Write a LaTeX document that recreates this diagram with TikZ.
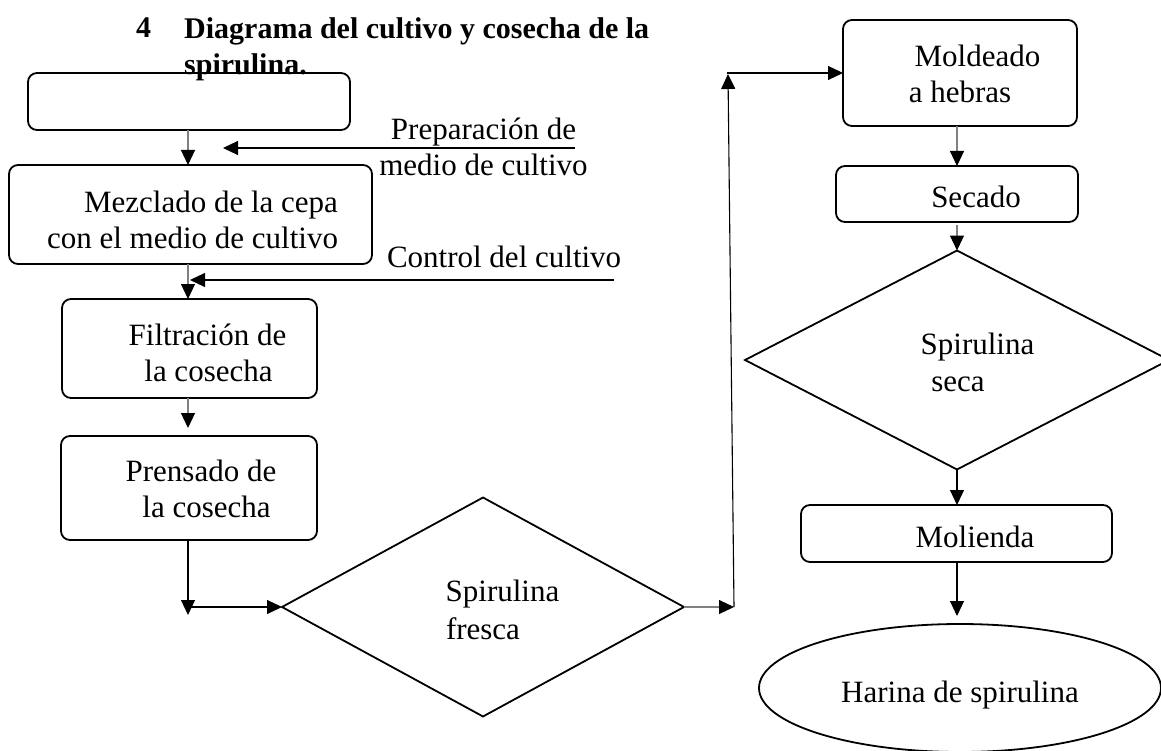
\documentclass[tikz,border=0pt]{standalone}
\usepackage{fontspec}
\setmainfont{Liberation Serif}
\usetikzlibrary{shapes.geometric,arrows.meta,calc}
\newcommand\bodyfont{\fontsize{31}{36}\selectfont}
\newcommand\titlefont{\fontsize{30}{36}\selectfont\bfseries}
\newcommand\tstrut[1]{\rule{0pt}{#1pt}}
\newcommand\ind[1]{\hspace*{#1pt}}
\begin{document}
\begin{tikzpicture}[x=1pt,y=-1pt,
  box/.style={draw, line width=1.8pt, rounded corners=9pt, inner sep=0pt, outer sep=0pt, align=center, font=\bodyfont},
  dia/.style={draw, diamond, line width=1.8pt, inner sep=0pt, outer sep=0pt, align=center, font=\bodyfont},
  oval/.style={draw, ellipse, line width=1.8pt, inner sep=0pt, outer sep=0pt, align=center, font=\bodyfont},
  lbl/.style={inner sep=0pt, outer sep=0pt, font=\bodyfont, align=center},
  arr/.style={line width=1.1pt, -{Triangle[width=14pt,length=15pt,color=black]}},
  garr/.style={arr, draw=black!50},
]
\useasboundingbox (0,0) rectangle (1161,751);
\clip (0,0) rectangle (1161,751);

% process boxes
\node[box, minimum width=322, minimum height=57] (inicio) at (189,101.5) {};
\node[box, minimum width=363, minimum height=99, align=right] (mezcla) at (190.5,214.5)
  {\tstrut{33}\ind{4}Mezclado de la cepa\\\ind{4}con el medio de cultivo};
\node[box, minimum width=255, minimum height=99] (filt) at (189.5,348.5)
  {\tstrut{31}\ind{36}Filtración de\\\ind{38}la cosecha};
\node[box, minimum width=256, minimum height=104] (prens) at (189,488)
  {\tstrut{24}\ind{24}Prensado de\\\ind{35}la cosecha};
\node[dia, minimum width=402, minimum height=184] (fresca) at (483,607)
  {\tstrut{28}\ind{39}Spirulina\\[2pt]fresca};
\node[box, minimum width=234, minimum height=106] (molde) at (960,73)
  {\tstrut{24}\ind{35}Moldeado\\a hebras};
\node[box, minimum width=242, minimum height=56, text height=28pt, text depth=0pt] (secado) at (957,194)
  {\ind{38}Secado};
\node[dia, minimum width=424, minimum height=184] (seca) at (957,360)
  {\tstrut{27}\ind{41}Spirulina\\[1pt]\ind{2}seca};
\node[box, minimum width=311, minimum height=57, text height=28pt, text depth=0pt] (molienda) at (956.5,533.5)
  {\ind{37}Molienda};
\node[oval, minimum width=402, minimum height=128, text height=28pt, text depth=0pt] (harina) at (960,688)
  {Harina de spirulina};

% title
\node[anchor=base west, inner sep=0pt, font=\titlefont] (num) at (136,38) {4};
\node[anchor=north west, inner sep=0pt, font=\titlefont, align=left] (titulo) at (184,17.5)
  {Diagrama del cultivo y cosecha de la\\spirulina.};

% side labels
\node[lbl, anchor=north] (prep) at (483.5,117.8) {Preparación de\\medio de cultivo};
\node[lbl, anchor=base west] (ctrl) at (387,268) {Control del cultivo};

% free ends and bends
\coordinate (p1) at (575,148);
\coordinate (p2) at (223,148);
\coordinate (c1) at (614,280);
\coordinate (c2) at (190,280);
\coordinate (j0) at (188,615);
\coordinate (j0b) at (188,607);
\coordinate (j1) at (734,607);
\coordinate (j2) at (728,74);
\coordinate (j2b) at (727,73);
\coordinate (rx) at (957,0);

% connectors
\draw[garr] (inicio.south -| j0) -- (mezcla.north -| j0);
\draw[garr] (mezcla.south -| j0) -- (filt.north -| j0);
\draw[garr] (filt.south -| j0) -- ($(prens.north -| j0)+(0,-8)$);
\draw[arr] (prens.south -| j0) -- (j0);
\draw[arr] (j0b) -- (fresca.west);
\draw[garr] (fresca.east) -- (j1);
\draw[arr] (j1) -- (j2);
\draw[arr] (j2b) -- (molde.west);
\draw[garr] (molde.south -| rx) -- (secado.north -| rx);
\draw[garr] ($(secado.south -| rx)+(0,3)$) -- (seca.north -| rx);
\draw[arr] (seca.south -| rx) -- (molienda.north -| rx);
\draw[arr] (molienda.south -| rx) -- ($(harina.north -| rx)+(0,-8)$);
\draw[arr] (p1) -- (p2);
\draw[arr] (c1) -- (c2);
\end{tikzpicture}
\end{document}
